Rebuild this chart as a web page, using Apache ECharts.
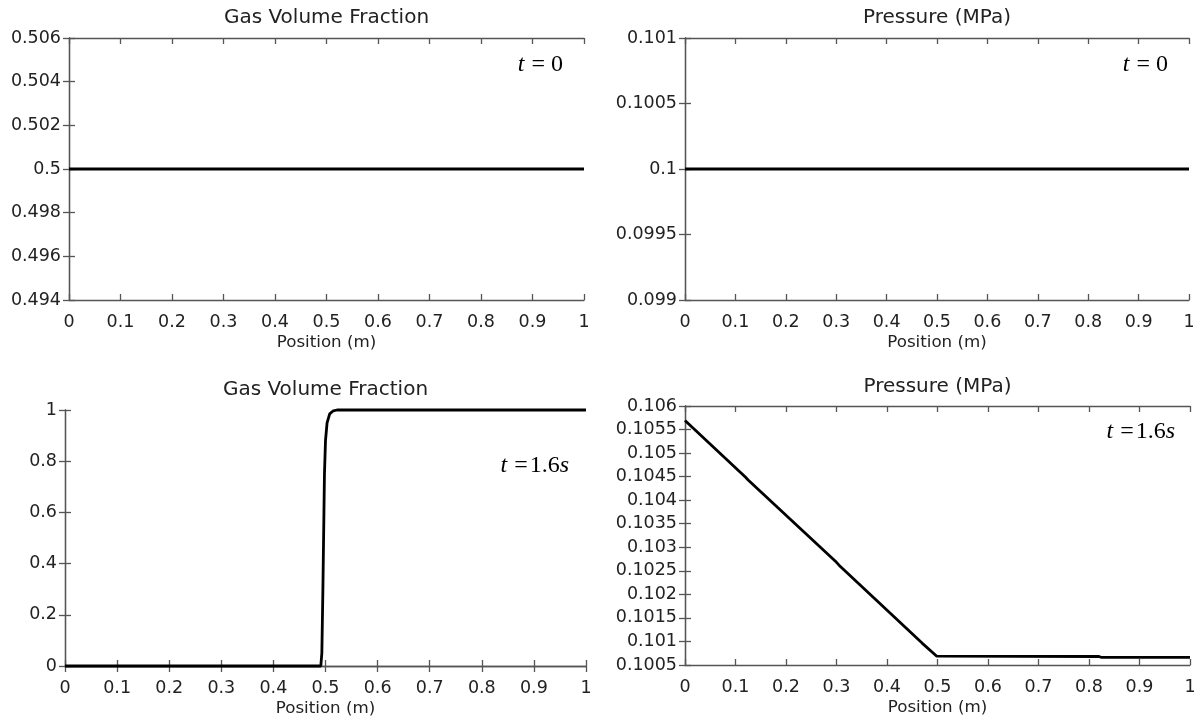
<!DOCTYPE html>
<html>
<head>
<meta charset="utf-8">
<script src="https://cdn.jsdelivr.net/npm/echarts@6/dist/echarts.min.js"></script>
<style>html,body{margin:0;padding:0;background:#fff;}#c{width:1203px;height:720px;}</style>
</head>
<body>
<div id="c"></div>
<script>
// ---- data ----
const xTicksMin = 0, xTicksMax = 1, xTickStep = 0.1;
const posT0 = [0, 1];
const gasT0 = [0.5, 0.5];
const presT0 = [0.1, 0.1];
const posGas16 = [0, 0.491, 0.493, 0.495, 0.497, 0.498, 0.5, 0.503, 0.508, 0.515, 0.522, 1];
const gas16    = [0, 0,     0.05,  0.3,   0.6,   0.75,  0.88, 0.95,  0.985, 0.997, 1,     1];
const posPres16 = [0, 0.12, 0.125, 0.3, 0.305, 0.47, 0.498, 0.5, 0.82, 0.825, 1];
const pres16    = [0.10569, 0.104485, 0.10443, 0.10268, 0.10262, 0.10096, 0.10069, 0.10069, 0.10068, 0.10066, 0.10066];
const titles = ['Gas Volume Fraction', 'Pressure (MPa)', 'Gas Volume Fraction', 'Pressure (MPa)'];
const xName = 'Position (m)';

const FONT = 'DejaVu Sans';
const AX = '#555';
const grids = [
  {left: 69, top: 38, width: 515, height: 262},
  {left: 685, top: 38, width: 504, height: 262},
  {left: 65, top: 410, width: 521, height: 256},
  {left: 685, top: 406, width: 505, height: 259}
];
const yRanges = [
  {min: 0.494, max: 0.506, interval: 0.002},
  {min: 0.099, max: 0.101, interval: 0.0005},
  {min: 0, max: 1, interval: 0.2},
  {min: 0.1005, max: 0.106, interval: 0.0005}
];
const fmt = v => String(+v.toFixed(6));
const pairs = (xs, ys) => xs.map((x, i) => [x, ys[i]]);
const seriesData = [pairs(posT0, gasT0), pairs(posT0, presT0), pairs(posGas16, gas16), pairs(posPres16, pres16)];

const xAxis = [], yAxis = [], series = [];
grids.forEach((g, i) => {
  const common = {
    type: 'value', gridIndex: i, min: xTicksMin, max: xTicksMax, interval: xTickStep,
    axisLine: {show: true, lineStyle: {color: AX, width: 1.3}},
    axisTick: {show: true, inside: true, length: 6, lineStyle: {color: AX, width: 1.3}},
    splitLine: {show: false}
  };
  xAxis.push(Object.assign({}, common, {
    position: 'bottom', name: xName, nameLocation: 'middle', nameGap: 34,
    nameTextStyle: {fontFamily: FONT, fontSize: 16.7, color: '#222'},
    axisLabel: {show: true, margin: 13, fontFamily: FONT, fontSize: 17.5, color: '#222', formatter: fmt}
  }));
  xAxis.push(Object.assign({}, common, {position: 'top', axisLabel: {show: false}}));
  const yc = Object.assign({}, common, yRanges[i]);
  yAxis.push(Object.assign({}, yc, {
    position: 'left',
    axisLabel: {show: true, margin: 8, fontFamily: FONT, fontSize: 17.5, color: '#222', formatter: fmt}
  }));
  yAxis.push(Object.assign({}, yc, {position: 'right', axisLabel: {show: false}}));
  series.push({
    type: 'line', xAxisIndex: 2 * i, yAxisIndex: 2 * i, data: seriesData[i],
    showSymbol: false, symbol: 'none', clip: false, animation: false,
    lineStyle: {color: '#000', width: 2.8}
  });
});

const graphic = [];
grids.forEach((g, i) => {
  graphic.push({
    type: 'text', x: g.left + g.width / 2, y: i < 2 ? 18 : (i === 2 ? 390 : 387),
    style: {text: titles[i], fontFamily: FONT, fontSize: 20, fill: '#222', align: 'center', verticalAlign: 'middle'}
  });
});
const notes = [
  {x: 563, y: 65, t: '{i|t}{e|=}{r|0}'},
  {x: 1168, y: 65, t: '{i|t}{e|=}{r|0}'},
  {x: 569, y: 466, t: '{i|t}{f|=}{r|1.6}{i|s}'},
  {x: 1175, y: 432, t: '{i|t}{f|=}{r|1.6}{i|s}'}
];
notes.forEach(n => {
  graphic.push({
    type: 'text', x: n.x, y: n.y,
    style: {
      text: n.t, align: 'right', verticalAlign: 'middle',
      rich: {
        i: {fontFamily: 'Liberation Serif', fontStyle: 'italic', fontSize: 24, fill: '#000'},
        e: {fontFamily: 'Liberation Serif', fontSize: 24, fill: '#000', padding: [0, 6, 0, 7]},
        f: {fontFamily: 'Liberation Serif', fontSize: 24, fill: '#000', padding: [0, 2, 0, 7]},
        r: {fontFamily: 'Liberation Serif', fontSize: 24, fill: '#000'}
      }
    }
  });
});

const chart = echarts.init(document.getElementById('c'), null, {renderer: 'canvas'});
chart.setOption({
  animation: false,
  backgroundColor: '#fff',
  grid: grids.map(g => Object.assign({containLabel: false}, g)),
  xAxis, yAxis, series, graphic
});
</script>
</body>
</html>
